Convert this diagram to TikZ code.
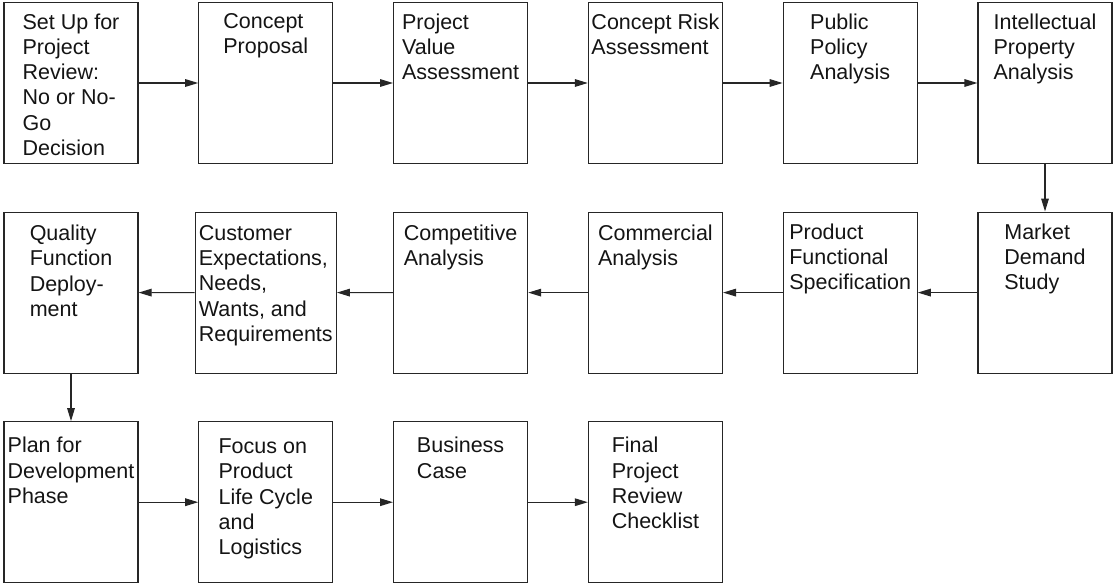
\documentclass[tikz,border=0pt]{standalone}
\usepackage{fontspec}
\setmainfont{Liberation Sans}
\usetikzlibrary{positioning,calc,arrows.meta}

\begin{document}
\begin{tikzpicture}[x=0.5pt,y=-0.5pt,line width=0.6pt,color=black!85,
    node distance=23.7pt and 29.8pt,
    box/.style={rectangle,draw,minimum width=67pt,minimum height=80.5pt,inner sep=0pt},
    txt/.style={anchor=north,align=left,inner sep=0pt,text=black!92,font=\fontsize{10.75}{12.65}\selectfont},
    >={Triangle[length=6.5pt,width=3.8pt]}]
    \useasboundingbox (0,0) rectangle (1113,583);

    % First row
    \node[box] (setup) at (71,83) {};
    \node[box,right=of setup] (proposal) {};
    \node[box,right=of proposal] (value_assessment) {};
    \node[box,right=of value_assessment] (risk_assessment) {};
    \node[box,right=of risk_assessment] (policy) {};
    \node[box,right=of policy] (property) {};

    % Second row, running back to the left
    \node[box,below=of property] (market) {};
    \node[box,left=of market] (specification) {};
    \node[box,left=of specification] (commercial) {};
    \node[box,left=of commercial] (competitive) {};
    \node[box,below=of setup] (quality) {};
    \node[box,minimum width=70.5pt] (customer) at ($(quality)!0.5!(competitive)$) {};

    % Third row
    \node[box,below=of quality] (plan) {};
    \node[box,right=of plan] (life_cycle) {};
    \node[box,right=of life_cycle] (business_case) {};
    \node[box,right=of business_case] (checklist) {};

    % Texts at the top of the boxes
    \node[txt] (setup_text) at ([yshift=-5.5pt]setup.north) {Set Up for\\Project\\Review:\\No or No-\\Go\\Decision};
    \node[txt] (proposal_text) at ([yshift=-5.5pt]proposal.north) {Concept\\Proposal};
    \node[txt] (value_text) at ([yshift=-5.5pt]value_assessment.north) {Project\\Value\\Assessment};
    \node[txt] (risk_text) at ([yshift=-5.5pt]risk_assessment.north) {Concept Risk\\Assessment};
    \node[txt] (policy_text) at ([yshift=-5.5pt]policy.north) {Public\\Policy\\Analysis};
    \node[txt] (property_text) at ([yshift=-5.5pt]property.north) {Intellectual\\Property\\Analysis};

    \node[txt] (market_text) at ([yshift=-5.8pt]market.north) {Market\\Demand\\Study};
    \node[txt] (specification_text) at ([yshift=-5.8pt]specification.north) {Product\\Functional\\Specification};
    \node[txt] (commercial_text) at ([yshift=-6.5pt]commercial.north) {Commercial\\Analysis};
    \node[txt] (competitive_text) at ([yshift=-6.5pt]competitive.north) {Competitive\\Analysis};
    \node[txt] (customer_text) at ([yshift=-6.5pt]customer.north) {Customer\\Expectations,\\Needs,\\Wants, and\\Requirements};
    \node[txt] (quality_text) at ([yshift=-6.5pt]quality.north) {Quality\\Function\\Deploy-\\ment};

    \node[txt] (plan_text) at ([yshift=-7.8pt]plan.north) {Plan for\\Development\\Phase};
    \node[txt] (life_cycle_text) at ([yshift=-8.5pt]life_cycle.north) {Focus on\\Product\\Life Cycle\\and\\Logistics};
    \node[txt] (business_text) at ([yshift=-7.8pt]business_case.north) {Business\\Case};
    \node[txt] (checklist_text) at ([yshift=-7.8pt]checklist.north) {Final\\Project\\Review\\Checklist};

    % Arrows
    \draw[->] (setup) -- (proposal);
    \draw[->] (proposal) -- (value_assessment);
    \draw[->] (value_assessment) -- (risk_assessment);
    \draw[->] (risk_assessment) -- (policy);
    \draw[->] (policy) -- (property);
    \draw[->] (property) -- (market);
    \draw[->] (market) -- (specification);
    \draw[->] (specification) -- (commercial);
    \draw[->] (commercial) -- (competitive);
    \draw[->] (competitive) -- (customer);
    \draw[->] (customer) -- (quality);
    \draw[->] (quality) -- (plan);
    \draw[->] (plan) -- (life_cycle);
    \draw[->] (life_cycle) -- (business_case);
    \draw[->] (business_case) -- (checklist);
\end{tikzpicture}
\end{document}
